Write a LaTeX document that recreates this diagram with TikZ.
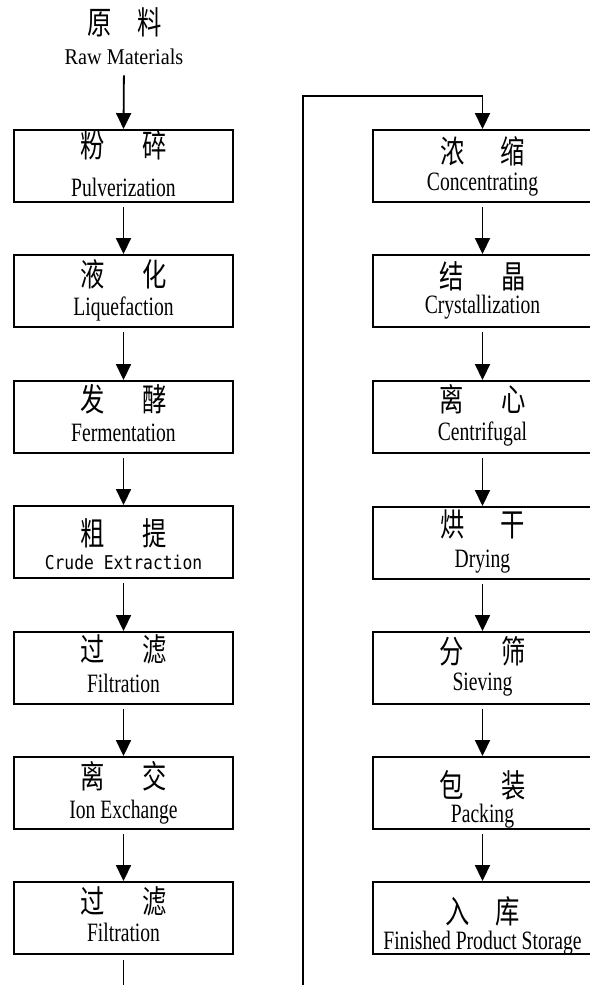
\documentclass[tikz,border=0pt]{standalone}
\usepackage{fontspec}
\usetikzlibrary{arrows.meta}
\newfontfamily\en[FakeStretch=0.74]{Liberation Serif}
\newfontfamily\entitle[FakeStretch=0.9]{Liberation Serif}
\newfontfamily\cjk[FakeStretch=0.76]{Noto Sans CJK SC}
\newfontfamily\monoen[FakeStretch=0.86]{DejaVu Sans Mono}
\newcommand{\zhpair}[3]{\makebox[0pt]{#1}\hspace{#3pt}\makebox[0pt]{#2}}
\begin{document}
\begin{tikzpicture}[x=1pt,y=-1pt,
  stepbox/.style={draw, line width=1.9pt, minimum width=219pt, minimum height=72pt, inner sep=0pt},
  zhtext/.style={inner sep=0pt, font=\cjk\fontsize{32}{34}\selectfont},
  entext/.style={inner sep=0pt, anchor=base, font=\en\fontsize{26.5}{30}\selectfont},
  flow/.style={line width=1.8pt, -{Triangle[width=15pt,length=16pt]}},
  plainline/.style={line width=1.8pt}]
\useasboundingbox (0,0) rectangle (589,985);

% title
\node[zhtext] (rawz) at (125,22.5) {\zhpair{原}{料}{50}};
\node[inner sep=0pt, anchor=base, font=\entitle\fontsize{22.5}{26}\selectfont] (raw) at (124,64) {Raw Materials};

% left column boxes
\node[stepbox] (L1) at (123.5,166) {};
\node[stepbox] (L2) at (123.5,291) {};
\node[stepbox] (L3) at (123.5,417) {};
\node[stepbox] (L4) at (123.5,542) {};
\node[stepbox] (L5) at (123.5,668) {};
\node[stepbox] (L6) at (123.5,793) {};
\node[stepbox] (L7) at (123.5,918) {};

% right column boxes
\node[stepbox] (R1) at (482.5,166) {};
\node[stepbox] (R2) at (482.5,291) {};
\node[stepbox] (R3) at (482.5,417) {};
\node[stepbox] (R4) at (482.5,543) {};
\node[stepbox] (R5) at (482.5,668) {};
\node[stepbox] (R6) at (482.5,793) {};
\node[stepbox] (R7) at (482.5,918) {};

% left texts
\node[zhtext] (L1z) at ([yshift=-16pt]L1.north) {\zhpair{粉}{碎}{62}};
\node[entext] (L1e) at ([yshift=6pt]L1.south) {Pulverization};
\node[zhtext] (L2z) at ([yshift=-20pt]L2.north) {\zhpair{液}{化}{62}};
\node[entext] (L2e) at ([yshift=12pt]L2.south) {Liquefaction};
\node[zhtext] (L3z) at ([yshift=-19pt]L3.north) {\zhpair{发}{酵}{62}};
\node[entext] (L3e) at ([yshift=12pt]L3.south) {Fermentation};
\node[zhtext] (L4z) at ([yshift=-28pt]L4.north) {\zhpair{粗}{提}{62}};
\node[inner sep=0pt, anchor=base, font=\monoen\fontsize{19}{22}\selectfont] (L4e) at ([yshift=9pt]L4.south) {Crude Extraction};
\node[zhtext] (L5z) at ([yshift=-18pt]L5.north) {\zhpair{过}{滤}{62}};
\node[entext] (L5e) at ([yshift=12pt]L5.south) {Filtration};
\node[zhtext] (L6z) at ([yshift=-20pt]L6.north) {\zhpair{离}{交}{62}};
\node[entext] (L6e) at ([yshift=11pt]L6.south) {Ion Exchange};
\node[zhtext] (L7z) at ([yshift=-20pt]L7.north) {\zhpair{过}{滤}{62}};
\node[entext] (L7e) at ([yshift=13pt]L7.south) {Filtration};

% right texts
\node[zhtext] (R1z) at ([yshift=-22pt]R1.north) {\zhpair{浓}{缩}{60}};
\node[entext] (R1e) at ([yshift=12pt]R1.south) {Concentrating};
\node[zhtext] (R2z) at ([yshift=-22pt]R2.north) {\zhpair{结}{晶}{62}};
\node[entext] (R2e) at ([yshift=14pt]R2.south) {Crystallization};
\node[zhtext] (R3z) at ([yshift=-19pt]R3.north) {\zhpair{离}{心}{62}};
\node[entext] (R3e) at ([yshift=13pt]R3.south) {Centrifugal};
\node[zhtext] (R4z) at ([yshift=-18pt]R4.north) {\zhpair{烘}{干}{60}};
\node[entext] (R4e) at ([yshift=12pt]R4.south) {Drying};
\node[zhtext] (R5z) at ([yshift=-20pt]R5.north) {\zhpair{分}{筛}{62}};
\node[entext] (R5e) at ([yshift=14pt]R5.south) {Sieving};
\node[zhtext] (R6z) at ([yshift=-29pt]R6.north) {\zhpair{包}{装}{62}};
\node[entext] (R6e) at ([yshift=7pt]R6.south) {Packing};
\node[zhtext] (R7z) at ([yshift=-30pt]R7.north) {\zhpair{入}{库}{50}};
\node[entext] (R7e) at ([yshift=5pt]R7.south) {Finished Product Storage};

% connectors, left column
\draw[flow, shorten <=11pt] (raw.south) -- (L1.north);
\draw[flow, shorten <=4pt] (L1.south) -- (L2.north);
\draw[flow, shorten <=4pt] (L2.south) -- (L3.north);
\draw[flow, shorten <=4pt] (L3.south) -- (L4.north);
\draw[flow, shorten <=4pt] (L4.south) -- (L5.north);
\draw[flow, shorten <=4pt] (L5.south) -- (L6.north);
\draw[flow, shorten <=4pt] (L6.south) -- (L7.north);
\coordinate (Lend) at (123.5,992);
\draw[plainline, shorten <=5pt] (L7.south) -- (Lend);

% loop to right column
\coordinate (Rstart) at (303,992);
\coordinate (Rtop) at (303,96);
\draw[flow] (Rstart) -- (Rtop) -| (R1.north);

% connectors, right column
\draw[flow, shorten <=4pt] (R1.south) -- (R2.north);
\draw[flow, shorten <=4pt] (R2.south) -- (R3.north);
\draw[flow, shorten <=4pt] (R3.south) -- (R4.north);
\draw[flow, shorten <=4pt] (R4.south) -- (R5.north);
\draw[flow, shorten <=4pt] (R5.south) -- (R6.north);
\draw[flow, shorten <=4pt] (R6.south) -- (R7.north);
\end{tikzpicture}
\end{document}
